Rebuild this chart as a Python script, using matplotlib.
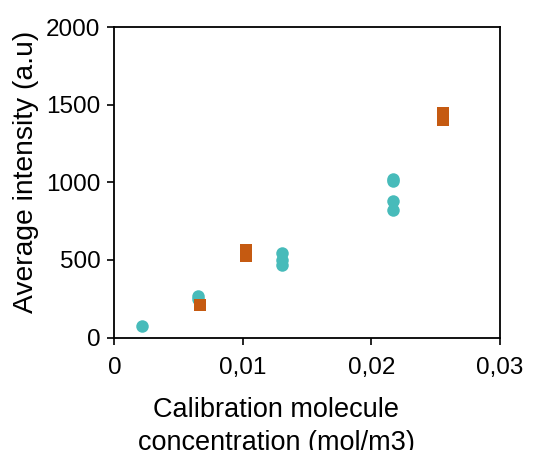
import matplotlib
matplotlib.use("Agg")
from matplotlib import pyplot as plt

# Séries.
teal_x = [0.00218, 0.00648, 0.00648, 0.01302, 0.01302, 0.01302, 0.02165, 0.02165, 0.02165, 0.02165]
teal_y = [75, 268, 245, 547, 498, 466, 1006, 1018, 878, 820]
orange_x = [0.00666, 0.01022, 0.01022, 0.02554, 0.02554]
orange_y = [212, 562, 524, 1443, 1400]

x_ticks = [0, 0.01, 0.02, 0.03]
x_labels = ["0", "0,01", "0,02", "0,03"]
y_ticks = [0, 500, 1000, 1500, 2000]

plt.rcParams['font.family'] = ['Liberation Sans', 'DejaVu Sans']

fig = plt.figure(figsize=(5.37, 4.5), dpi=100)
ax = fig.add_axes([0.2132, 0.25, 0.7178, 0.69])

ax.plot(teal_x, teal_y, linestyle='none', marker='o', markersize=9,
        color='#47BBBA', markeredgewidth=0)
ax.plot(orange_x, orange_y, linestyle='none', marker='s', markersize=8.2,
        color='#C55A11', markeredgewidth=0)

ax.set_xlim(0, 0.03)
ax.set_ylim(0, 2000)
ax.set_xticks(x_ticks)
ax.set_xticklabels(x_labels)
ax.set_yticks(y_ticks)
ax.tick_params(direction='out', length=5, width=1.2, labelsize=17.5)
ax.tick_params(axis='x', pad=9)
ax.tick_params(axis='y', pad=5)

for spine in ax.spines.values():
    spine.set_linewidth(1.3)

ax.set_ylabel("Average intensity (a.u)", fontsize=20.3, labelpad=5)
ax.set_xlabel("Calibration molecule\nconcentration (mol/m3)", fontsize=19.5,
              labelpad=14, linespacing=1.32)
# Les titres d'axes ne sont pas centrés sur le cadre dans l'original.
ax.xaxis.set_label_coords(0.419, -0.193, transform=ax.transAxes)
ax.xaxis.label.set_va('top')
ax.yaxis.label.set_position((0, 0.533))

fig.savefig("out.png", dpi=100)
